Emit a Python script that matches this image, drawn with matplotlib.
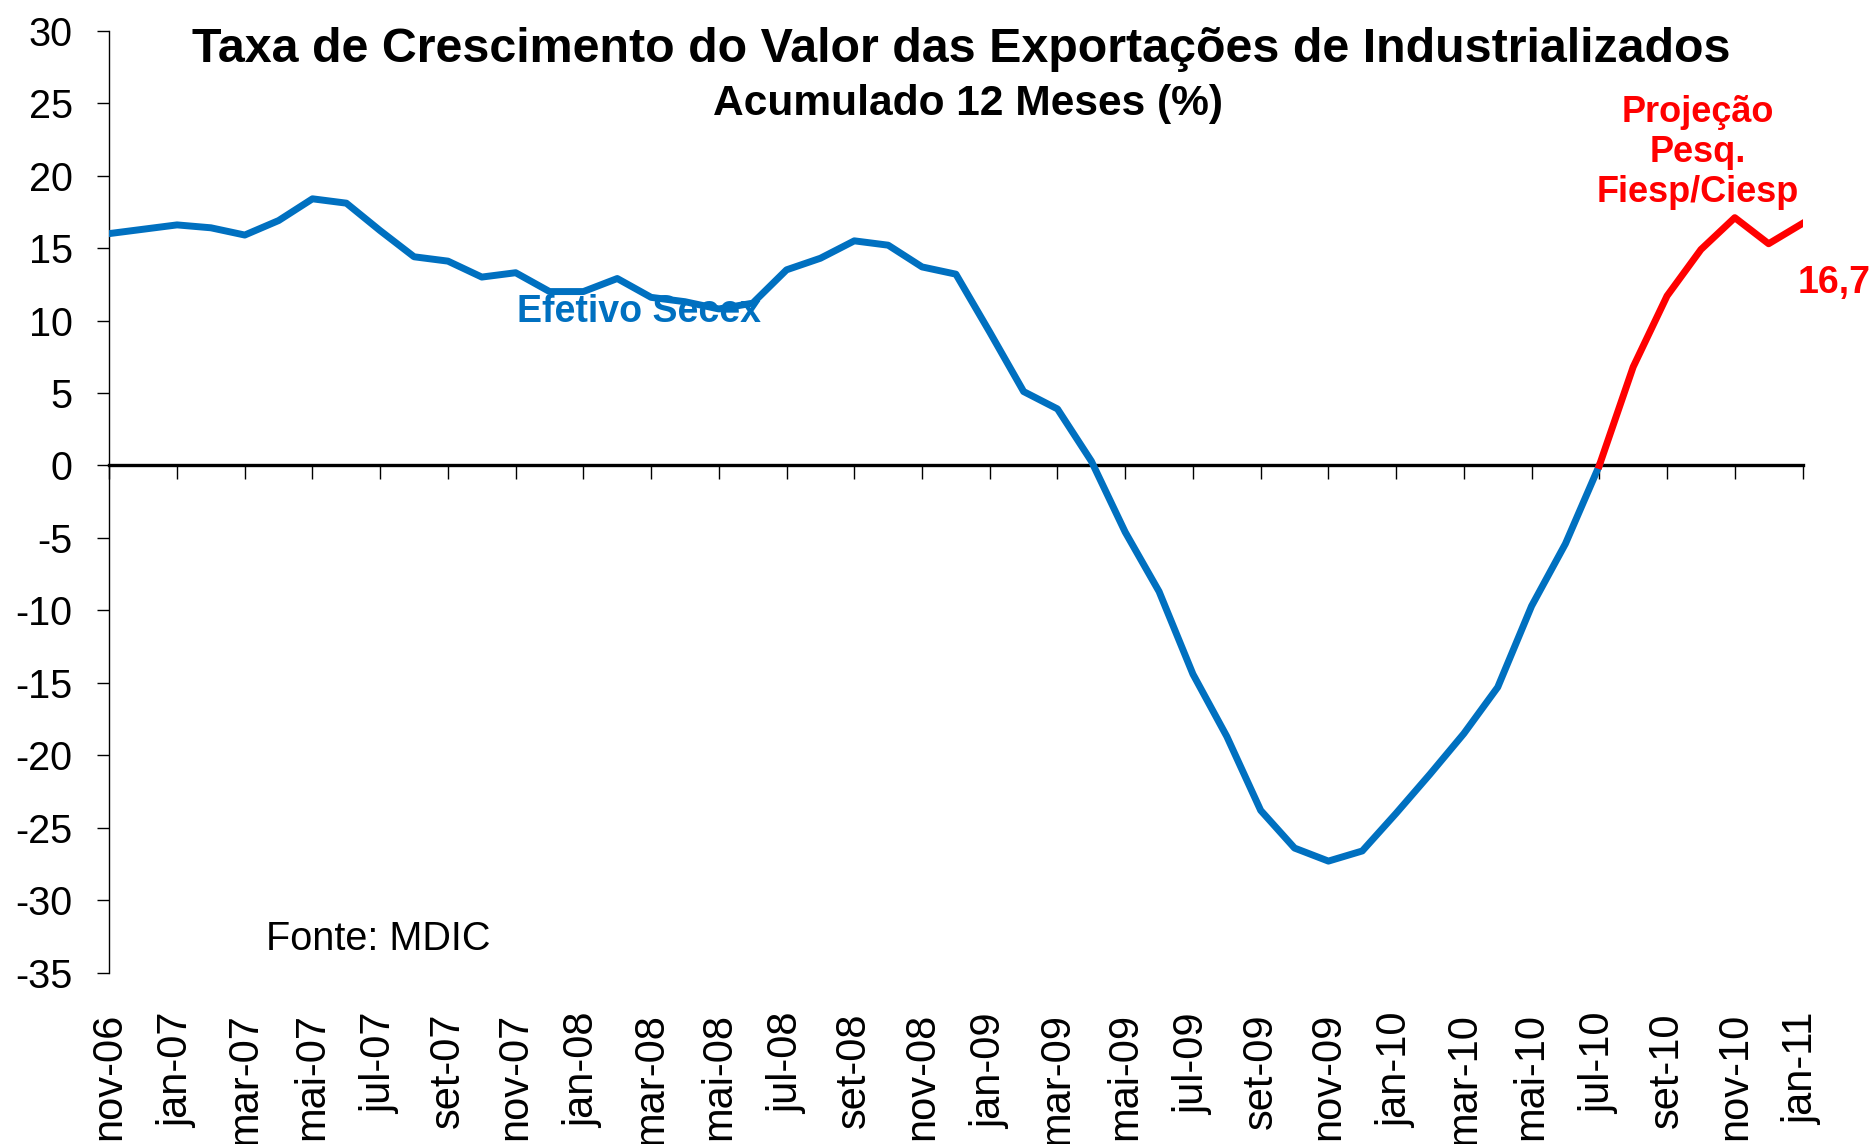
import matplotlib.pyplot as plt

# figure size in pixels (dpi 100)
W, H = 1876, 1144

plt.rcParams['font.family'] = ['Liberation Sans', 'DejaVu Sans']
plt.rcParams['axes.unicode_minus'] = False

# monthly categories nov-06 .. jan-11
months = ['nov-06', 'dez-06',
          'jan-07', 'fev-07', 'mar-07', 'abr-07', 'mai-07', 'jun-07',
          'jul-07', 'ago-07', 'set-07', 'out-07', 'nov-07', 'dez-07',
          'jan-08', 'fev-08', 'mar-08', 'abr-08', 'mai-08', 'jun-08',
          'jul-08', 'ago-08', 'set-08', 'out-08', 'nov-08', 'dez-08',
          'jan-09', 'fev-09', 'mar-09', 'abr-09', 'mai-09', 'jun-09',
          'jul-09', 'ago-09', 'set-09', 'out-09', 'nov-09', 'dez-09',
          'jan-10', 'fev-10', 'mar-10', 'abr-10', 'mai-10', 'jun-10',
          'jul-10', 'ago-10', 'set-10', 'out-10', 'nov-10', 'dez-10',
          'jan-11']

# Efetivo Secex: nov-06 .. jul-10
efetivo = [16.0, 16.3, 16.6, 16.4, 15.9, 16.9, 18.4, 18.1, 16.2, 14.4,
           14.1, 13.0, 13.3, 12.0, 12.0, 12.9, 11.6, 11.3, 10.8, 11.2,
           13.5, 14.3, 15.5, 15.2, 13.7, 13.2, 9.2, 5.1, 3.9, 0.3,
           -4.6, -8.7, -14.4, -18.7, -23.8, -26.4, -27.3, -26.6, -24.0, -21.3,
           -18.5, -15.3, -9.7, -5.4, 0.0]

# Projecao Fiesp/Ciesp: jul-10 .. jan-11
projecao = [0.0, 6.8, 11.7, 14.9, 17.1, 15.3, 16.7]

x_ef = list(range(len(efetivo)))
x_pr = list(range(len(efetivo) - 1, len(months)))

BLUE = '#0070C0'
RED = '#FF0000'

fig = plt.figure(figsize=(W / 100, H / 100), dpi=100)
# axes box from pixel measurements of the reference
left, right, top, bottom = 109.3, 1802.5, 30.7, 972.7
ax = fig.add_axes([left / W, 1 - bottom / H, (right - left) / W, (bottom - top) / H])

ax.plot(x_ef, efetivo, color=BLUE, lw=5, zorder=3)
ax.plot(x_pr, projecao, color=RED, lw=5, zorder=3)

ax.set_xlim(0, len(months) - 1)
ax.set_ylim(-35, 30)

# spines
ax.spines['top'].set_visible(False)
ax.spines['right'].set_visible(False)
ax.spines['left'].set_linewidth(1.0)
ax.spines['bottom'].set_position(('data', 0))
ax.spines['bottom'].set_linewidth(2.4)

# y axis
ax.set_yticks(range(-35, 31, 5))
ax.tick_params(axis='y', direction='out', length=8.4, width=1, pad=18, labelsize=28.5)

# x ticks on the zero line, labels at the bottom
xt = list(range(0, len(months), 2))
ax.set_xticks(xt)
ax.tick_params(axis='x', direction='out', length=10, width=1, labelbottom=False)

sec = ax.secondary_xaxis(0.0)
sec.set_xticks(xt, labels=months[::2])
sec.tick_params(length=0, pad=29, labelsize=30, labelrotation=90)
sec.spines['bottom'].set_visible(False)


def fx(px):
    return px / W


def fy(py):
    return 1 - py / H


# titles
fig.text(fx(961), fy(61.7), 'Taxa de Crescimento do Valor das Exportações de Industrializados',
         ha='center', va='baseline', fontsize=34.8, fontweight='bold')
fig.text(fx(968), fy(115), 'Acumulado 12 Meses (%)',
         ha='center', va='baseline', fontsize=30.6, fontweight='bold')

# annotations
fig.text(fx(517), fy(321.7), 'Efetivo Secex', ha='left', va='baseline',
         fontsize=27, fontweight='bold', color=BLUE, zorder=5)
for line, base in zip(['Projeção', 'Pesq.', 'Fiesp/Ciesp'], [121.7, 161.7, 201.7]):
    fig.text(fx(1698), fy(base), line, ha='center', va='baseline',
             fontsize=26, fontweight='bold', color=RED)
fig.text(fx(1798), fy(293.3), '16,7', ha='left', va='baseline',
         fontsize=27, fontweight='bold', color=RED)
fig.text(fx(266), fy(950), 'Fonte: MDIC', ha='left', va='baseline', fontsize=28.5)

fig.savefig('out.png', dpi=100)
